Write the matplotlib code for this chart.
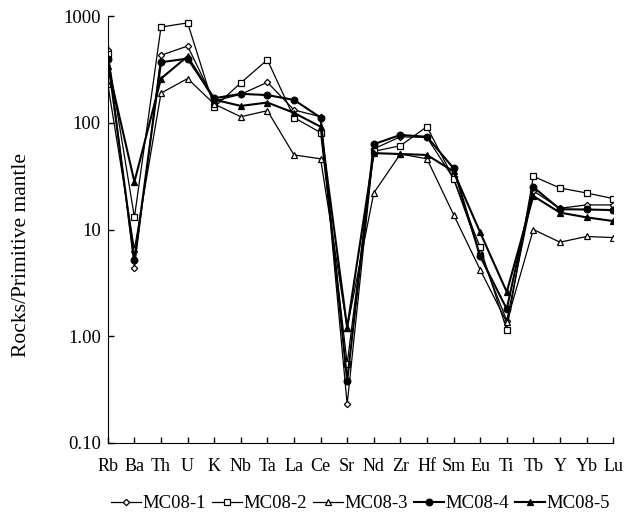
import matplotlib.pyplot as plt
from matplotlib.ticker import FixedLocator, FixedFormatter, NullLocator

# Primitive-mantle normalised trace element spider diagram

elements = ['Rb', 'Ba', 'Th', 'U', 'K', 'Nb', 'Ta', 'La', 'Ce', 'Sr',
            'Nd', 'Zr', 'Hf', 'Sm', 'Eu', 'Ti', 'Tb', 'Y', 'Yb', 'Lu']

mc08_1 = [480, 4.4, 430, 525, 160, 185, 240, 132, 114, 0.23,
          57, 74, 73, 30, 6.0, 1.40, 23, 15.8, 17, 17]
mc08_2 = [440, 13, 790, 865, 140, 237, 390, 112, 81, 0.55,
          54, 61, 92, 30, 6.8, 1.15, 31.5, 24.5, 22, 19.5]
mc08_3 = [230, 6.5, 190, 260, 150, 114, 130, 50, 46, 1.2,
          22, 51, 46, 13.8, 4.2, 1.35, 10, 7.6, 8.6, 8.4]
mc08_4 = [400, 5.2, 370, 400, 170, 187, 182, 164, 112, 0.38,
          63, 77, 74, 37.5, 5.6, 1.8, 25, 15.5, 15.4, 15.2]
mc08_5 = [340, 28, 260, 420, 165, 144, 155, 124, 92, 1.2,
          52, 51, 50, 35, 9.4, 2.6, 20.6, 14.4, 13, 12]

samples = ['MC08-1', 'MC08-2', 'MC08-3', 'MC08-4', 'MC08-5']

plt.rcParams['font.family'] = 'Liberation Serif'
plt.rcParams['font.size'] = 12

fig = plt.figure(figsize=(6.38, 5.21), dpi=100)
ax = fig.add_axes([0.169, 0.150, 0.792, 0.819])

x = list(range(len(elements)))
styles = [
    (mc08_1, 'D', 'white', 3.2, 0.9),
    (mc08_2, 's', 'white', 4.2, 0.9),
    (mc08_3, '^', 'white', 4.5, 0.9),
    (mc08_4, 'o', 'black', 4.8, 1.5),
    (mc08_5, '^', 'black', 4.8, 1.5),
]
for (vals, m, fc, ms, lw), name in zip(styles, samples):
    ax.plot(x, vals, color='black', marker=m, markerfacecolor=fc,
            markeredgecolor='black', markersize=ms, markeredgewidth=0.9,
            linewidth=lw, label=name)

ax.set_yscale('log')
ax.set_ylim(0.1, 1000)
ax.set_xlim(0, len(elements) - 1)

ax.yaxis.set_major_locator(FixedLocator([0.1, 1, 10, 100, 1000]))
ax.yaxis.set_major_formatter(FixedFormatter(['0.10', '1.00', '10', '100', '1000']))
ax.yaxis.set_minor_locator(NullLocator())
ax.set_xticks(x)
ax.set_xticklabels(elements)

ax.tick_params(axis='both', direction='in', length=4, width=1)
ax.tick_params(axis='x', pad=11, labelsize=13)
ax.tick_params(axis='y', pad=5, labelsize=13.5)

ax.spines['top'].set_visible(False)
ax.spines['right'].set_visible(False)

ax.set_ylabel('Rocks/Primitive mantle', fontsize=15.5)
ax.yaxis.set_label_coords(-0.152, 0.44)

ax.legend(loc='upper center', bbox_to_anchor=(0.5, -0.105), ncol=5,
          frameon=False, fontsize=13.5, handlelength=1.6,
          handletextpad=0.1, columnspacing=0.3, borderaxespad=0)

plt.savefig('out.png', dpi=100)
plt.close()
